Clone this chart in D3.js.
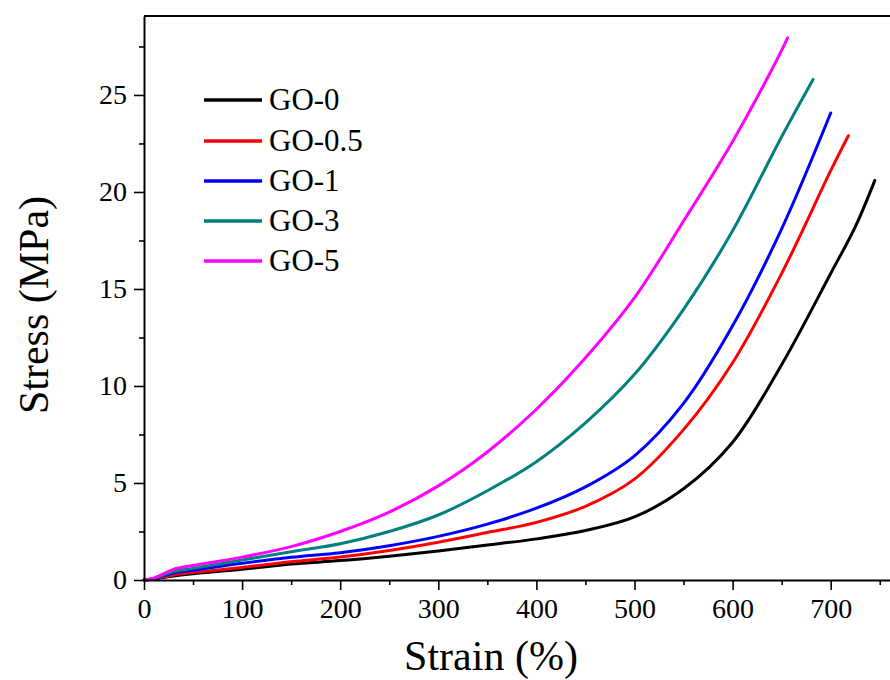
<!DOCTYPE html>
<html>
<head>
<meta charset="utf-8">
<script src="https://cdn.jsdelivr.net/npm/d3@7"></script>
<style>
  body { margin: 0; background: #fff; }
  text { font-family: "Liberation Serif", "Times New Roman", serif; fill: #000; }
</style>
</head>
<body>
<script>
"use strict";

// strain (%) sample points
var strain = [0, 10, 30, 50, 100, 150, 200, 250, 300, 350, 400, 450, 500, 550, 600, 650, 700, 725];

var names = ["GO-0", "GO-0.5", "GO-1", "GO-3", "GO-5"];
var colors = ["#000000", "#ff0000", "#0000ff", "#008080", "#ff00ff"];

// stress (MPa) at the strain points above; the last point of each curve is the break
var go0  = [0, 0.05, 0.2, 0.32, 0.55, 0.82, 1.0, 1.23, 1.5, 1.8, 2.12, 2.55, 3.25, 4.7, 7.1, 11.1, 15.8, 18.2];
var go05 = [0, 0.05, 0.26, 0.38, 0.65, 0.94, 1.18, 1.52, 1.95, 2.45, 2.97, 3.8, 5.2, 7.75, 11.2, 15.8, 21.1];
var go1  = [0, 0.07, 0.36, 0.5, 0.86, 1.17, 1.41, 1.77, 2.25, 2.88, 3.7, 4.8, 6.4, 9.1, 13.1, 18.1];
var go3  = [0, 0.08, 0.43, 0.6, 1.03, 1.46, 1.87, 2.5, 3.35, 4.6, 6.1, 8.1, 10.6, 13.95, 18.0, 22.85];
var go5  = [0, 0.1, 0.55, 0.75, 1.18, 1.72, 2.5, 3.5, 4.85, 6.6, 8.8, 11.45, 14.55, 18.5, 22.6, 27.3];

var breakStrain = [745, 718, 700, 682, 656];
var breakStress = [20.6, 22.9, 24.07, 25.8, 27.94];

var xTicks = [0, 100, 200, 300, 400, 500, 600, 700];
var yTicks = [0, 5, 10, 15, 20, 25];

var width = 890, height = 680;

var x = d3.scaleLinear().domain([0, 770]).range([144, 144 + 770 * 0.981]);
var y = d3.scaleLinear().domain([0, 29.07]).range([580, 16]);

var svg = d3.select("body").append("svg")
    .attr("width", width)
    .attr("height", height);

function buildSeries(vals, i) {
  var pts = [];
  for (var k = 0; k < vals.length; k++) {
    if (strain[k] < breakStrain[i]) pts.push([strain[k], vals[k]]);
  }
  pts.push([breakStrain[i], breakStress[i]]);
  return pts;
}

var series = [go0, go05, go1, go3, go5].map(buildSeries);

var line = d3.line()
    .x(function(d) { return x(d[0]); })
    .y(function(d) { return y(d[1]); })
    .curve(d3.curveCatmullRom.alpha(0.5));

svg.selectAll(".curve")
    .data(series)
    .enter()
      .append("path")
      .attr("class", "curve")
      .attr("d", line)
      .attr("fill", "none")
      .attr("stroke", function(d, i) { return colors[i]; })
      .attr("stroke-width", 3)
      .attr("stroke-linecap", "round")
      .attr("stroke-linejoin", "round");

// minor ticks
var xMinor = d3.range(50, 800, 100);
var yMinor = d3.range(2.5, 29, 5);

svg.append("g")
    .attr("transform", "translate(0,580)")
    .call(d3.axisBottom(x).tickValues(xMinor).tickSize(5).tickFormat(""))
    .call(function(g) { g.select(".domain").remove(); });

svg.append("g")
    .attr("transform", "translate(144,0)")
    .call(d3.axisLeft(y).tickValues(yMinor).tickSize(5).tickFormat(""))
    .call(function(g) { g.select(".domain").remove(); });

// major axes
var xAxis = svg.append("g")
    .attr("transform", "translate(0,580)")
    .call(d3.axisBottom(x).tickValues(xTicks).tickSize(10).tickSizeOuter(0).tickPadding(8));

var yAxis = svg.append("g")
    .attr("transform", "translate(144,0)")
    .call(d3.axisLeft(y).tickValues(yTicks).tickSize(10).tickSizeOuter(0).tickPadding(7));

[xAxis, yAxis].forEach(function(g) {
  g.selectAll("text").style("font-size", "28px").style("font-family", "Liberation Serif");
  g.select(".domain").attr("stroke-width", 2);
});
svg.selectAll("g line").attr("stroke-width", 1.6);

// top frame line
svg.append("line")
    .attr("x1", 144).attr("x2", width)
    .attr("y1", 16).attr("y2", 16)
    .attr("stroke", "#000")
    .attr("stroke-width", 2);

// axis titles
svg.append("text")
    .attr("x", 491)
    .attr("y", 670)
    .attr("text-anchor", "middle")
    .style("font-size", "42px")
    .text("Strain (%)");

svg.append("text")
    .attr("transform", "translate(48,305) rotate(-90)")
    .attr("text-anchor", "middle")
    .style("font-size", "42px")
    .text("Stress (MPa)");

// legend
var legendY = [100, 141, 181, 221, 261];

var legend = svg.selectAll(".legend")
    .data(names)
    .enter()
      .append("g")
      .attr("class", "legend")
      .attr("transform", function(d, i) { return "translate(0," + legendY[i] + ")"; });

legend.append("line")
    .attr("x1", 204).attr("x2", 262)
    .attr("stroke", function(d, i) { return colors[i]; })
    .attr("stroke-width", 3.5);

legend.append("text")
    .attr("x", 269)
    .attr("y", 10)
    .style("font-size", "31px")
    .text(function(d) { return d; });
</script>
</body>
</html>
